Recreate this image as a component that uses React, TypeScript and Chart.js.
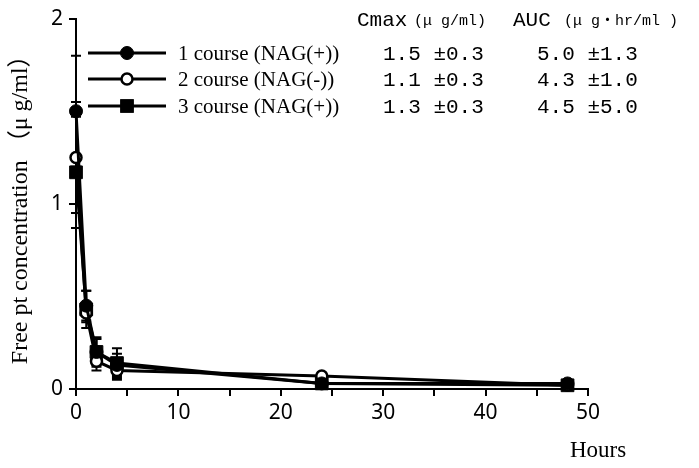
import React, { useEffect, useRef } from "react";
import { Chart, registerables } from "chart.js";

Chart.register(...registerables);

const hours = [0, 1, 2, 4, 24, 48];
const course1 = [1.5, 0.45, 0.2, 0.13, 0.03, 0.03];
const course2 = [1.25, 0.41, 0.15, 0.1, 0.07, 0.02];
const course3 = [1.17, 0.43, 0.2, 0.14, 0.03, 0.02];
const err1 = [0.3, 0.08, 0.07, 0.06, 0.01, 0.01];
const err2 = [0.3, 0.05, 0.05, 0.05, 0.01, 0.01];
const err3 = [0.3, 0.1, 0.08, 0.08, 0.01, 0.01];
const seriesLabels = ["1 course (NAG(+))", "2 course (NAG(-))", "3 course (NAG(+))"];
const cmaxLabels = ["1.5 ±0.3", "1.1 ±0.3", "1.3 ±0.3"];
const aucLabels = ["5.0 ±1.3", "4.3 ±1.0", "4.5 ±5.0"];
const xTicks = [0, 10, 20, 30, 40, 50];
const yTicks = [0, 1, 2];

const SERIF = "'Liberation Serif', 'Noto Sans CJK JP', serif";
const SANS = "'Noto Sans', 'DejaVu Sans', sans-serif";
const MONO = "'Liberation Mono', 'Noto Sans CJK JP', monospace";

const errors = [err1, err2, err3];

const errorBarPlugin = {
  id: "errorBars",
  beforeDatasetsDraw(chart: any) {
    const ctx = chart.ctx;
    const xs = chart.scales.x;
    const ys = chart.scales.y;
    ctx.save();
    ctx.strokeStyle = "#000";
    ctx.lineWidth = 2;
    chart.data.datasets.forEach((ds: any, i: number) => {
      ds.data.forEach((p: any, j: number) => {
        const e = errors[i][j];
        const x = xs.getPixelForValue(p.x);
        const yTop = ys.getPixelForValue(p.y + e);
        const yBot = ys.getPixelForValue(Math.max(0, p.y - e));
        ctx.beginPath();
        ctx.moveTo(x, yTop);
        ctx.lineTo(x, yBot);
        ctx.moveTo(x - 5, yTop);
        ctx.lineTo(x + 5, yTop);
        ctx.moveTo(x - 5, yBot);
        ctx.lineTo(x + 5, yBot);
        ctx.stroke();
      });
    });
    ctx.restore();
  },
};

const legendPlugin = {
  id: "customLegend",
  afterDraw(chart: any) {
    const ctx = chart.ctx;
    const rows = [53, 79, 106];
    ctx.save();
    chart.data.datasets.forEach((ds: any, i: number) => {
      const y = rows[i];
      ctx.strokeStyle = "#000";
      ctx.lineWidth = 3;
      ctx.beginPath();
      ctx.moveTo(88, y);
      ctx.lineTo(166, y);
      ctx.stroke();
      ctx.lineWidth = ds.pointBorderWidth;
      ctx.fillStyle = ds.pointBackgroundColor;
      ctx.strokeStyle = "#000";
      const style = ds.pointStyle;
      if (style === "rect") {
        const s = ds.pointRadius * Math.SQRT1_2;
        ctx.fillRect(127 - s, y - s, 2 * s, 2 * s);
        ctx.strokeRect(127 - s, y - s, 2 * s, 2 * s);
      } else {
        ctx.beginPath();
        ctx.arc(127, y, ds.pointRadius, 0, Math.PI * 2);
        ctx.fill();
        ctx.stroke();
      }
      ctx.fillStyle = "#000";
      ctx.textBaseline = "middle";
      ctx.textAlign = "left";
      ctx.font = `21px ${SERIF}`;
      ctx.fillText(seriesLabels[i], 178, y + 1);
      ctx.font = `21px ${MONO}`;
      ctx.fillText(cmaxLabels[i], 383, y + 1);
      ctx.fillText(aucLabels[i], 537, y + 1);
    });
    // header
    ctx.textBaseline = "alphabetic";
    ctx.font = `21px ${MONO}`;
    ctx.fillText("Cmax", 357, 26);
    ctx.font = `15px ${MONO}`;
    ctx.fillText("(μ g/ml)", 414, 25);
    ctx.font = `21px ${MONO}`;
    ctx.fillText("AUC", 513, 26);
    ctx.font = `15px ${MONO}`;
    ctx.fillText("(μ g・hr/ml )", 564, 25);
    // x axis title
    ctx.font = `23px ${SERIF}`;
    ctx.textAlign = "center";
    ctx.textBaseline = "middle";
    ctx.fillText("Hours", 598, 451);
    ctx.restore();
  },
};

export default function App() {
  const ref = useRef<HTMLCanvasElement | null>(null);
  useEffect(() => {
    if (!ref.current) return;
    const mk = (vals: number[]) => hours.map((h, i) => ({ x: h, y: vals[i] }));
    const chart = new Chart(ref.current, {
      type: "line",
      data: {
        datasets: [
          {
            label: seriesLabels[0],
            data: mk(course1),
            borderColor: "#000",
            borderWidth: 3,
            clip: false,
            pointStyle: "circle",
            pointRadius: 6.5,
            pointBackgroundColor: "#000",
            pointBorderColor: "#000",
            pointBorderWidth: 1,
          },
          {
            label: seriesLabels[1],
            data: mk(course2),
            borderColor: "#000",
            borderWidth: 3,
            clip: false,
            pointStyle: "circle",
            pointRadius: 5.5,
            pointBackgroundColor: "#fff",
            pointBorderColor: "#000",
            pointBorderWidth: 2.5,
          },
          {
            label: seriesLabels[2],
            data: mk(course3),
            borderColor: "#000",
            borderWidth: 3,
            clip: false,
            pointStyle: "rect",
            pointRadius: 9,
            pointBackgroundColor: "#000",
            pointBorderColor: "#000",
            pointBorderWidth: 1,
          },
        ],
      },
      options: {
        responsive: false,
        animation: false,
        layout: { padding: { top: 15, right: 111, bottom: 0, left: 0 } },
        plugins: { legend: { display: false }, tooltip: { enabled: false } },
        scales: {
          x: {
            type: "linear",
            min: 0,
            max: 50,
            afterFit: (s: any) => {
              s.height = 79;
            },
            afterBuildTicks: (s: any) => {
              const t: any[] = [];
              for (let v = 0; v <= 50; v += 5) t.push({ value: v });
              s.ticks = t;
            },
            ticks: {
              color: "#000",
              font: { family: SANS, size: 21 },
              padding: 4,
              maxRotation: 0,
              autoSkip: false,
              callback: (v: any) => (xTicks.includes(Number(v)) ? String(v) : ""),
            },
            grid: { display: true, drawOnChartArea: false, drawTicks: true, tickLength: 7, color: "#000", lineWidth: 2 },
            border: { display: true, color: "#000", width: 2 },
          },
          y: {
            type: "linear",
            min: 0,
            max: 2,
            afterFit: (s: any) => {
              s.width = 76;
            },
            afterBuildTicks: (s: any) => {
              s.ticks = yTicks.map((v) => ({ value: v }));
            },
            ticks: {
              color: "#000",
              font: { family: SANS, size: 21 },
              padding: 6,
            },
            grid: { display: true, drawOnChartArea: false, drawTicks: true, tickLength: 7, color: "#000", lineWidth: 2 },
            border: { display: true, color: "#000", width: 2 },
            title: {
              display: true,
              text: "Free pt concentration （μ g/ml）",
              color: "#000",
              font: { family: SERIF, size: 24 },
              padding: { top: 6, bottom: 0 },
            },
          },
        },
      },
      plugins: [errorBarPlugin, legendPlugin],
    });
    return () => chart.destroy();
  }, []);
  return (
    <div style={{ position: "fixed", left: 0, top: 0, width: 699, height: 468, background: "#fff" }}>
      <canvas ref={ref} width={699} height={468} />
    </div>
  );
}
